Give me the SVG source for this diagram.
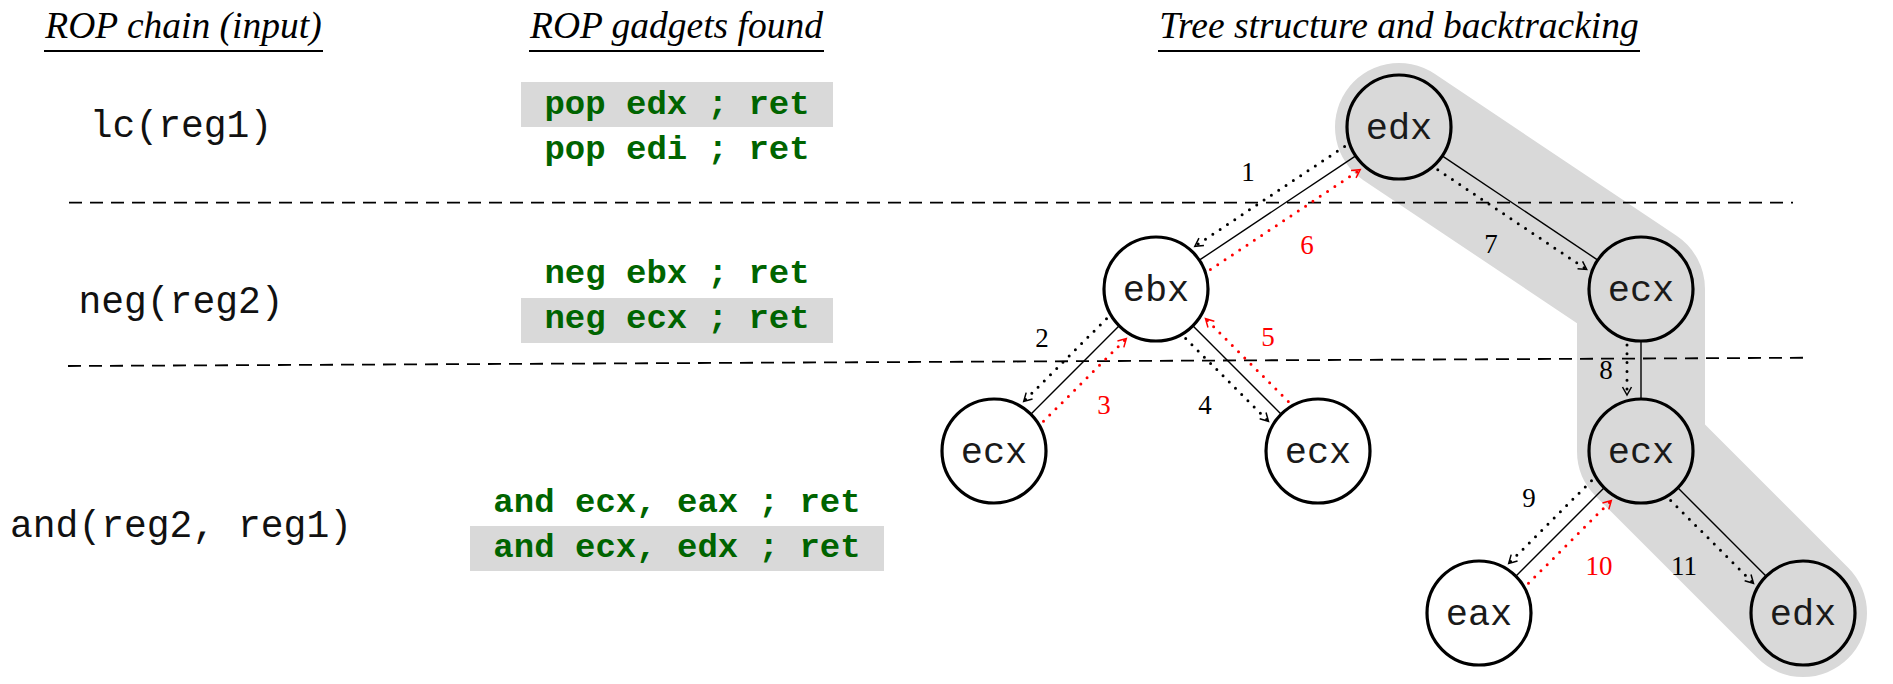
<svg xmlns="http://www.w3.org/2000/svg" width="1893" height="684" viewBox="0 0 1893 684">
<defs>
<style>
.title{font-family:"Liberation Serif","Times New Roman",serif;font-style:italic;font-size:37.5px;fill:#000;text-anchor:middle}
.uline{stroke:#000;stroke-width:2}
.op{font-family:"Liberation Mono","Courier New",monospace;font-size:38px;fill:#111;text-anchor:middle}
.gad{font-family:"Liberation Mono","Courier New",monospace;font-weight:bold;font-size:34px;fill:#006400;text-anchor:middle}
.hl{fill:#d9d9d9}
.sep{stroke:#000;stroke-width:1.8;stroke-dasharray:13 8;fill:none}
.node{stroke:#000;stroke-width:3.2}
.nw{fill:#fff}
.ng{fill:#d9d9d9}
.nlab{font-family:"Liberation Mono","Courier New",monospace;font-size:37px;fill:#1a1a1a;text-anchor:middle}
.edge{stroke:#000;stroke-width:1.4;fill:none}
.fwd{stroke:#000;stroke-width:3;stroke-linecap:round;stroke-dasharray:0 8.8;fill:none;marker-end:url(#ahb)}
.back{stroke:#f00;stroke-width:3;stroke-linecap:round;stroke-dasharray:0 8.8;fill:none;marker-end:url(#ahr)}
.num{font-family:"Liberation Serif","Times New Roman",serif;font-size:27px;fill:#000;text-anchor:middle}
.rnum{fill:#f00}
</style>
<marker id="ahb" viewBox="-10 -6 12 12" refX="0" refY="0" markerWidth="12" markerHeight="12" markerUnits="userSpaceOnUse" orient="auto">
<path d="M-8,-4.5 L0,0 L-8,4.5" fill="none" stroke="#000" stroke-width="1.5"/>
</marker>
<marker id="ahr" viewBox="-10 -6 12 12" refX="0" refY="0" markerWidth="12" markerHeight="12" markerUnits="userSpaceOnUse" orient="auto">
<path d="M-8,-4.5 L0,0 L-8,4.5" fill="none" stroke="#f00" stroke-width="1.5"/>
</marker>
</defs>
<rect width="1893" height="684" fill="#fff"/>

<g id="titles">
<text class="title" x="183.5" y="38">ROP chain (input)</text>
<line class="uline" x1="44" y1="51" x2="323" y2="51"/>
<text class="title" x="676.5" y="38">ROP gadgets found</text>
<line class="uline" x1="529" y1="51" x2="824" y2="51"/>
<text class="title" x="1399" y="38">Tree structure and backtracking</text>
<line class="uline" x1="1158" y1="51" x2="1640" y2="51"/>
</g>

<g id="chain">
<text class="op" x="181" y="136.7">lc(reg1)</text>
<text class="op" x="181" y="313.3">neg(reg2)</text>
<text class="op" x="181" y="536.7">and(reg2, reg1)</text>
</g>

<g id="gadgets">
<rect class="hl" x="521" y="82" width="312" height="45"/>
<rect class="hl" x="521" y="298" width="312" height="45"/>
<rect class="hl" x="470" y="526" width="414" height="45"/>
<text class="gad" x="677" y="114.3">pop edx ; ret</text>
<text class="gad" x="677" y="159.3">pop edi ; ret</text>
<text class="gad" x="677" y="283.3">neg ebx ; ret</text>
<text class="gad" x="677" y="328.3">neg ecx ; ret</text>
<text class="gad" x="677" y="511.7">and ecx, eax ; ret</text>
<text class="gad" x="677" y="557.3">and ecx, edx ; ret</text>
</g>

<g id="path-highlight">
<polyline points="1399,127 1641,289 1641,451 1803,613" fill="none" stroke="#d9d9d9" stroke-width="128" stroke-linejoin="round" stroke-linecap="round"/>
</g>

<g id="separators">
<line class="sep" x1="69" y1="202.7" x2="1793" y2="202.7"/>
<line class="sep" x1="68" y1="366" x2="1809" y2="357.7"/>
</g>

<g id="connectors">
<line class="edge" x1="1355.7" y1="155.8" x2="1199.3" y2="260.2"/>
<line class="edge" x1="1442.2" y1="155.9" x2="1597.8" y2="260.1"/>
<line class="edge" x1="1119.2" y1="325.8" x2="1030.8" y2="414.2"/>
<line class="edge" x1="1192.8" y1="325.8" x2="1281.2" y2="414.2"/>
<line class="edge" x1="1641" y1="341" x2="1641" y2="399"/>
<line class="edge" x1="1604.2" y1="487.8" x2="1515.8" y2="576.2"/>
<line class="edge" x1="1677.8" y1="487.8" x2="1766.2" y2="576.2"/>

<path class="fwd" d="M1344.6,146.4 L1194.8,246.3"/>
<path class="back" d="M1210.4,269.6 L1360.2,169.7"/>
<path class="fwd" d="M1437.8,169.8 L1586.7,269.5"/>
<path class="fwd" d="M1106.5,318.7 L1023.7,401.5"/>
<path class="back" d="M1043.5,421.3 L1126.3,338.5"/>
<path class="fwd" d="M1185.7,338.5 L1268.5,421.3"/>
<path class="back" d="M1288.3,401.5 L1205.5,318.7"/>
<path class="fwd" d="M1627,345 L1627,395"/>
<path class="fwd" d="M1591.5,480.7 L1508.7,563.5"/>
<path class="back" d="M1528.5,583.3 L1611.3,500.5"/>
<path class="fwd" d="M1670.7,500.5 L1753.5,583.3"/>

<text class="num" x="1248" y="181">1</text>
<text class="num" x="1042" y="347">2</text>
<text class="num rnum" x="1104" y="414">3</text>
<text class="num" x="1205" y="414">4</text>
<text class="num rnum" x="1268" y="346">5</text>
<text class="num rnum" x="1307" y="254">6</text>
<text class="num" x="1491" y="253">7</text>
<text class="num" x="1606" y="379">8</text>
<text class="num" x="1529" y="507">9</text>
<text class="num rnum" x="1599" y="575">10</text>
<text class="num" x="1684" y="575">11</text>
</g>

<g id="node-edx-root"><circle class="node ng" cx="1399" cy="127" r="52"/><text class="nlab" x="1399" y="139">edx</text></g>
<g id="node-ebx"><circle class="node nw" cx="1156" cy="289" r="52"/><text class="nlab" x="1156" y="301">ebx</text></g>
<g id="node-ecx-r1"><circle class="node ng" cx="1641" cy="289" r="52"/><text class="nlab" x="1641" y="301">ecx</text></g>
<g id="node-ecx-left"><circle class="node nw" cx="994" cy="451" r="52"/><text class="nlab" x="994" y="463">ecx</text></g>
<g id="node-ecx-mid"><circle class="node nw" cx="1318" cy="451" r="52"/><text class="nlab" x="1318" y="463">ecx</text></g>
<g id="node-ecx-r2"><circle class="node ng" cx="1641" cy="451" r="52"/><text class="nlab" x="1641" y="463">ecx</text></g>
<g id="node-eax"><circle class="node nw" cx="1479" cy="613" r="52"/><text class="nlab" x="1479" y="625">eax</text></g>
<g id="node-edx-leaf"><circle class="node ng" cx="1803" cy="613" r="52"/><text class="nlab" x="1803" y="625">edx</text></g>
</svg>
